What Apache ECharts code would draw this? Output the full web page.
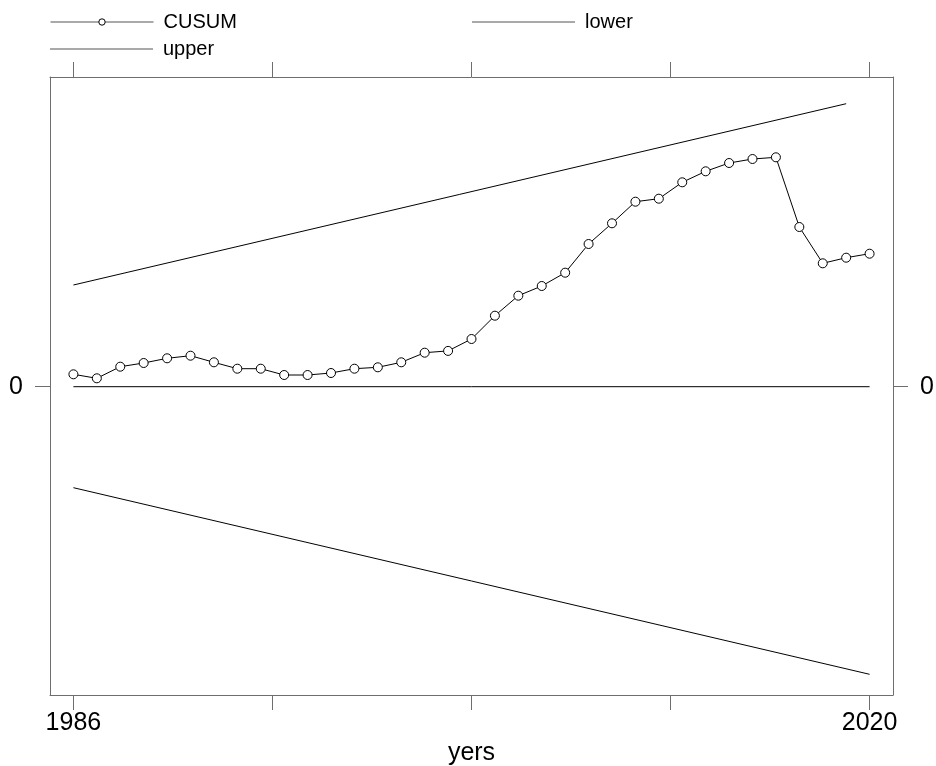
<!DOCTYPE html>
<html>
<head>
<meta charset="utf-8">
<title>CUSUM</title>
<script src="https://cdn.jsdelivr.net/npm/echarts@6/dist/echarts.min.js"></script>
<style>
  html, body { margin: 0; padding: 0; background: #fff; }
  #main { width: 936px; height: 766px; }
</style>
</head>
<body>
<div id="main"></div>
<script>
// data
var years = [1986, 1987, 1988, 1989, 1990, 1991, 1992, 1993, 1994, 1995, 1996, 1997,
  1998, 1999, 2000, 2001, 2002, 2003, 2004, 2005, 2006, 2007, 2008, 2009, 2010,
  2011, 2012, 2013, 2014, 2015, 2016, 2017, 2018, 2019, 2020];
var cusum = [0.124, 0.084, 0.200, 0.237, 0.284, 0.310, 0.244, 0.180, 0.180, 0.117,
  0.117, 0.137, 0.180, 0.194, 0.244, 0.340, 0.358, 0.477, 0.710, 0.910, 1.007,
  1.140, 1.427, 1.634, 1.850, 1.880, 2.044, 2.154, 2.237, 2.277, 2.294, 1.597,
  1.234, 1.290, 1.330];
var upperYears = [1986, 2019];
var upper = [1.017, 2.83];
var lowerYears = [1986, 2020];
var lower = [-1.01, -2.876];
var zeroYears = [1986, 2020];
var zero = [0, 0];
var xTicks = [1986, 1994.5, 2003, 2011.5, 2020];
var xLabels = [1986, 2020];
var yTicks = [0];

function pairs(xs, ys) {
  return xs.map(function (x, i) { return [x, ys[i]]; });
}

var font = 'Liberation Sans, Arial, Helvetica, sans-serif';
var frameColor = '#6e6e6e';

var myChart = echarts.init(document.getElementById('main'), null, { renderer: 'canvas' });

// legend entries sit in two rows like the original
function legendAt(name, left, top, plain) {
  var lg = {
    data: [name],
    left: left,
    top: top,
    padding: 0,
    itemWidth: 103,
    itemHeight: 8,
    selectedMode: false,
    lineStyle: { color: '#555', width: 1 },
    itemStyle: { color: '#fff', borderColor: '#000', borderWidth: 1 },
    textStyle: { fontFamily: font, fontSize: 20, color: '#000', lineHeight: 20, padding: [0, 0, 0, 5] }
  };
  if (plain) {
    // plain line for the bounds, no marker
    lg.data = [{ name: name, icon: 'rect' }];
    lg.itemHeight = 1;
    lg.itemStyle = { color: '#555', borderWidth: 0 };
  }
  return lg;
}

function xAxisAt(pos, withLabels) {
  return {
    type: 'value',
    position: pos,
    min: 1985,
    max: 2021,
    name: withLabels ? 'yers' : '',
    nameLocation: 'middle',
    nameGap: 40,
    nameTextStyle: { fontFamily: font, fontSize: 25, color: '#000' },
    axisLine: { show: true, onZero: false, lineStyle: { color: frameColor, width: 1 } },
    axisTick: { show: true, inside: false, length: 15, customValues: xTicks, lineStyle: { color: frameColor, width: 1 } },
    axisLabel: {
      show: withLabels,
      customValues: xLabels,
      margin: 16,
      fontFamily: font,
      fontSize: 25,
      color: '#000',
      formatter: function (v) { return String(v); }
    },
    splitLine: { show: false }
  };
}

function yAxisAt(pos) {
  return {
    type: 'value',
    position: pos,
    min: -3.083,
    max: 3.097,
    axisLine: { show: true, onZero: false, lineStyle: { color: frameColor, width: 1 } },
    axisTick: { show: true, inside: false, length: 15, customValues: yTicks, lineStyle: { color: frameColor, width: 1 } },
    axisLabel: {
      customValues: yTicks,
      margin: 27,
      fontFamily: font,
      fontSize: 25,
      color: '#000',
      formatter: function (v) { return String(v); }
    },
    splitLine: { show: false }
  };
}

var option = {
  animation: false,
  backgroundColor: '#fff',
  legend: [
    legendAt('CUSUM', 50, 12, false),
    legendAt('lower', 472, 12, true),
    legendAt('upper', 50, 39, true)
  ],
  grid: {
    left: 50,
    top: 77,
    right: 43,
    bottom: 71,
    containLabel: false,
    outerBoundsMode: 'none'
  },
  xAxis: [xAxisAt('bottom', true), xAxisAt('top', false)],
  yAxis: [yAxisAt('left'), yAxisAt('right')],
  series: [{
      name: 'CUSUM',
      type: 'line',
      data: pairs(years, cusum),
      symbol: 'circle',
      symbolSize: 9,
      showAllSymbol: true,
      color: '#000',
      lineStyle: { color: '#000', width: 1 },
      itemStyle: { color: '#fff', borderColor: '#000', borderWidth: 1 }
    },
    {
      name: 'lower',
      type: 'line',
      data: pairs(lowerYears, lower),
      symbol: 'none',
      color: '#000',
      lineStyle: { color: '#000', width: 1 }
    },
    {
      name: 'upper',
      type: 'line',
      data: pairs(upperYears, upper),
      symbol: 'none',
      color: '#000',
      lineStyle: { color: '#000', width: 1 }
    },
    {
      name: 'zero',
      type: 'line',
      data: pairs(zeroYears, zero),
      symbol: 'none',
      color: '#000',
      lineStyle: { color: '#000', width: 1 }
    }
  ]
};

myChart.setOption(option);
</script>
</body>
</html>
